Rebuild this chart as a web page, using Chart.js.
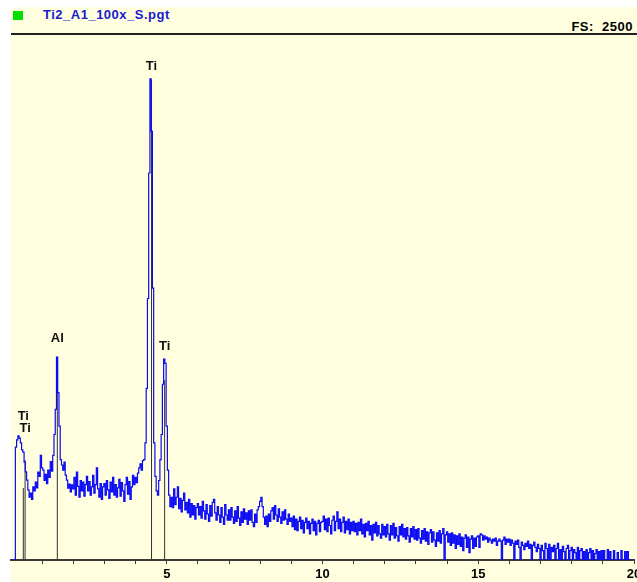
<!DOCTYPE html>
<html>
<head>
<meta charset="utf-8">
<title>Ti2_A1_100x_S.pgt</title>
<script src="https://cdn.jsdelivr.net/npm/chart.js@4.4.1/dist/chart.umd.min.js"></script>
<style>
  html, body { margin: 0; padding: 0; background: #ffffff; }
  body { width: 637px; height: 582px; position: relative; overflow: hidden;
         font-family: "Liberation Sans", Arial, sans-serif; }
  #panel { position: absolute; left: 11px; top: 7px; width: 626px; height: 575px; background: #ffffe0; }
  #swatch { position: absolute; left: 13px; top: 11px; width: 10px; height: 9px; background: #00e000; }
  #title { position: absolute; left: 43px; top: 7px; font-weight: bold; font-size: 13px;
           letter-spacing: 0.5px; color: #1a1acf; line-height: 16px; white-space: nowrap; }
  #fs { position: absolute; right: 4px; top: 19px; font-weight: bold; font-size: 13px;
        letter-spacing: 0.5px; color: #000; line-height: 16px; white-space: pre; }
  #rule { position: absolute; left: 11px; top: 33px; width: 626px; height: 2px; background: #222; }
  #spectrum { position: absolute; left: 0; top: 0; }
</style>
</head>
<body>
<div id="panel"></div>
<div id="swatch"></div>
<div id="title">Ti2_A1_100x_S.pgt</div>
<div id="fs">FS:  2500</div>
<div id="rule"></div>
<canvas id="spectrum" width="637" height="582"></canvas>
<script>
// Detector calibration: keV per channel
const CH_WIDTH = 0.04;
const FULL_SCALE = 2500;

// Counts per channel, one row per keV (25 channels each)
const counts = [
  /* 0 */ 0, 0, 0, 0, 540, 574, 593, 583, 560, 526, 516, 468, 421, 382, 335, 300, 320, 290, 350, 330, 372, 345, 420, 400, 500,
  /* 1 */ 440, 430, 380, 410, 365, 430, 395, 470, 425, 500, 600, 720, 970, 800, 640, 480, 454, 430, 468, 406, 382, 344, 363, 325, 359,
  /* 2 */ 340, 395, 310, 420, 352, 300, 380, 330, 372, 305, 360, 400, 330, 375, 310, 350, 405, 320, 360, 440, 340, 300, 365, 290, 350,
  /* 3 */ 365, 310, 380, 335, 295, 372, 325, 395, 310, 360, 300, 345, 385, 305, 370, 330, 280, 360, 395, 315, 375, 290, 350, 405, 360,
  /* 4 */ 395, 370, 415, 440, 460, 430, 475, 480, 560, 820, 1250, 1850, 2300, 2050, 1300, 560, 400, 330, 310, 380, 480, 600, 840, 960, 940,
  /* 5 */ 640, 430, 310, 255, 300, 250, 340, 265, 300, 350, 245, 295, 230, 285, 320, 240, 275, 225, 290, 205, 270, 215, 260, 195, 250,
  /* 6 */ 270, 215, 255, 200, 280, 235, 195, 265, 220, 185, 260, 210, 275, 290, 225, 190, 255, 215, 180, 250, 205, 170, 265, 215, 190,
  /* 7 */ 240, 190, 250, 205, 175, 235, 185, 255, 200, 165, 230, 180, 245, 195, 225, 170, 235, 190, 240, 180, 160, 220, 180, 240, 255,
  /* 8 */ 280, 300, 255, 205, 170, 210, 160, 220, 185, 235, 250, 195, 260, 215, 185, 245, 205, 175, 230, 190, 240, 195, 170, 220, 185,
  /* 9 */ 200, 160, 210, 145, 195, 140, 185, 205, 150, 190, 130, 180, 200, 150, 185, 125, 175, 195, 140, 185, 120, 175, 190, 135, 180,
  /*10 */ 185, 210, 145, 195, 135, 200, 165, 125, 190, 210, 140, 185, 230, 150, 195, 135, 180, 205, 130, 185, 145, 195, 125, 180, 140,
  /*11 */ 185, 135, 175, 120, 180, 140, 195, 125, 170, 110, 175, 140, 185, 120, 165, 95, 170, 130, 180, 115, 165, 125, 105, 170, 120,
  /*12 */ 160, 110, 170, 125, 95, 165, 120, 175, 105, 155, 115, 90, 160, 120, 170, 110, 150, 100, 155, 115, 85, 150, 110, 160, 100,
  /*13 */ 145, 95, 150, 105, 80, 140, 100, 150, 90, 135, 75, 130, 145, 85, 135, 95, 65, 130, 90, 140, 80, 125, 150, 0, 120,
  /*14 */ 135, 85, 125, 70, 130, 80, 120, 55, 115, 75, 125, 65, 110, 45, 105, 120, 60, 110, 35, 100, 115, 55, 105, 65, 110,
  /*15 */ 115, 60, 125, 120, 95, 115, 100, 110, 85, 105, 95, 80, 100, 90, 105, 70, 90, 100, 90, 0, 95, 110, 75, 100, 85,
  /*16 */ 100, 70, 95, 80, 0, 90, 75, 95, 60, 0, 85, 70, 50, 80, 65, 90, 55, 75, 0, 70, 85, 60, 40, 75, 55,
  /*17 */ 0, 70, 45, 0, 80, 55, 0, 75, 0, 60, 40, 70, 0, 55, 80, 0, 50, 0, 65, 40, 0, 55, 70, 0, 45,
  /*18 */ 60, 0, 50, 35, 0, 60, 0, 45, 55, 0, 40, 0, 50, 0, 35, 55, 0, 45, 0, 30, 50, 0, 40, 0, 45,
  /*19 */ 0, 45, 0, 0, 50, 0, 40, 0, 0, 45, 0, 0, 35, 0, 0, 45, 0, 0, 40, 0, 40, 0, 0, 0, 0
];

// Element line markers (KLM)
const markerLabels = ['Ti', 'Ti', 'Al', 'Ti', 'Ti'];
const markerEnergy = [0.395, 0.452, 1.487, 4.511, 4.932];
const markerHeight = [344, 478, 970, 2294, 860];
const markerLabelAt = [684, 631, 1061, 2357, 1023];

// Energy axis labels
const axisLabels = [5, 10, 15, 20];

const spectrumPoints = counts.map((c, i) => ({ x: Math.round(i * CH_WIDTH * 1000) / 1000, y: c }));

const markerSets = markerEnergy.map((e, i) => ({
  data: [{ x: e, y: 0 }, { x: e, y: markerHeight[i] }],
  borderColor: '#333333',
  borderWidth: 1,
  pointRadius: 0,
  fill: false
}));

const markerText = {
  id: 'markerText',
  afterDatasetsDraw(chart) {
    const { ctx, scales } = chart;
    ctx.save();
    ctx.fillStyle = '#111111';
    ctx.font = 'bold 13px "Liberation Sans", Arial, sans-serif';
    ctx.textAlign = 'center';
    ctx.textBaseline = 'middle';
    markerLabels.forEach((t, i) => {
      ctx.fillText(t, scales.x.getPixelForValue(markerEnergy[i]), scales.y.getPixelForValue(markerLabelAt[i]));
    });
    ctx.restore();
  }
};

new Chart(document.getElementById('spectrum'), {
  type: 'line',
  data: {
    datasets: [{
      data: spectrumPoints,
      borderColor: '#0a0af5',
      borderWidth: 1.2,
      pointRadius: 0,
      stepped: 'middle',
      fill: false
    }].concat(markerSets)
  },
  options: {
    responsive: false,
    animation: false,
    events: [],
    layout: { padding: { left: 11, right: 3, top: 37, bottom: 0 } },
    plugins: { legend: { display: false }, tooltip: { enabled: false } },
    scales: {
      x: {
        type: 'linear',
        min: 0,
        max: 20,
        afterFit(scale) { scale.height = 22; scale.paddingLeft = 0; scale.paddingRight = 0; },
        grid: { drawOnChartArea: false, drawTicks: true, tickLength: 4, color: '#3a3a3a', lineWidth: 1 },
        border: { display: true, color: '#3a3a3a', width: 2 },
        ticks: {
          stepSize: 1,
          autoSkip: false,
          maxRotation: 0,
          padding: 3,
          color: '#000000',
          font: { family: '"Liberation Sans", Arial, sans-serif', size: 13, weight: 'bold' },
          callback: (v) => v === 0 ? null : (axisLabels.includes(v) ? String(v) : '')
        }
      },
      y: { display: false, min: 0, max: FULL_SCALE }
    }
  },
  plugins: [markerText]
});
</script>
</body>
</html>
